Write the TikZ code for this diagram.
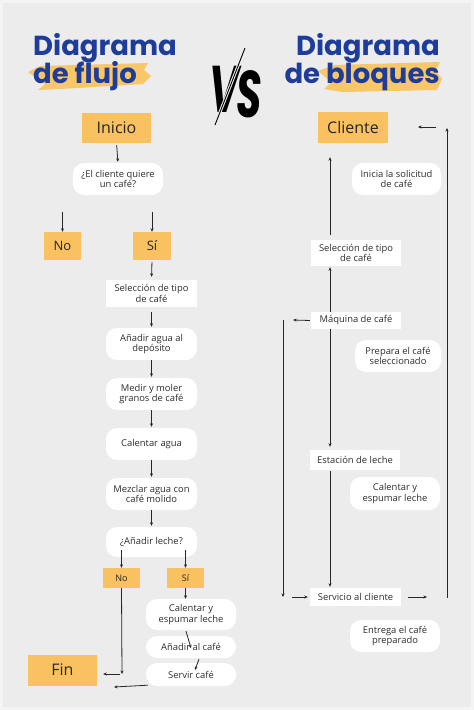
\documentclass[tikz,border=0pt]{standalone}
\usepackage{fontspec}
\setmainfont{Open Sans}
\newfontfamily\titlefont{Poppins}
\usetikzlibrary{arrows.meta}
\definecolor{bg}{HTML}{ECECEC}
\definecolor{bgout}{HTML}{F4F4F4}
\definecolor{orng}{HTML}{F9C160}
\definecolor{tblue}{HTML}{1E3C9A}
\definecolor{txt}{HTML}{2E2E2E}
\definecolor{brush}{HTML}{F8C767}
\begin{document}
\begin{tikzpicture}[x=1pt,y=-1pt,
  arr/.style={-{Stealth[length=3.5pt,width=3pt]}, line width=0.8pt, draw=black!85},
  obox/.style={fill=orng, inner sep=0pt, text=black!85},
  bigo/.style={obox, font=\fontsize{16}{16}\selectfont},
  mido/.style={obox, font=\fontsize{13}{13}\selectfont},
  smallo/.style={obox, font=\fontsize{9}{9}\selectfont},
  wbox/.style={fill=white, rounded corners=11pt, inner sep=0pt, align=center,
    font=\fontsize{9.4}{10.5}\selectfont, text=txt},
  rbox/.style={fill=white, inner sep=0pt, align=center,
    font=\fontsize{9.4}{10.5}\selectfont, text=txt},
  ttl/.style={font=\titlefont\bfseries\fontsize{27.5}{27.5}\selectfont, text=tblue, inner sep=0pt},
  vsfont/.style={font=\titlefont\bfseries\itshape\fontsize{66}{66}\selectfont, inner sep=0pt, text=black}
]
\useasboundingbox (0,0) rectangle (474,710);
\fill[bgout] (0,0) rectangle (474,710);
\fill[bg] (3,3) rectangle (471,707);

% brush strokes
\fill[brush] (28,72) -- (40,66) -- (148,63) -- (144,70) -- (151,76) -- (143,84) -- (60,89) -- (38,90) -- (45,84) -- cycle;
\fill[brush] (318,71) -- (334,65) -- (440,62) -- (436,71) -- (442,79) -- (437,90) -- (342,92) -- (324,89) -- (331,82) -- cycle;

% titles
\node[ttl, anchor=base west] (t1a) at (33,55) {Diagrama};
\node[ttl, anchor=base west] (t1b) at (33,83) {de flujo};
\node[ttl, anchor=base east] (t2a) at (440,55) {Diagrama};
\node[ttl, anchor=base east] (t2b) at (440,83) {de bloques};

% VS
\node[vsfont, anchor=base west] (vs) at (209,112) {\scalebox{0.62}[1]{V\kern-4pt\raisebox{-5pt}{S}}};
\draw[bg, line width=3pt] (245,48) -- (215,125);
\draw[black, line width=0.9pt] (245,48) -- (215,125);

% ---------- left: flowchart ----------
\node[bigo, minimum width=69pt, minimum height=30pt] (inicio) at (116.5,128) {Inicio};
\node[wbox, minimum width=90pt, minimum height=32pt] (q1) at (118,179) {¿El cliente quiere\\un café?};
\node[mido, minimum width=37pt, minimum height=28pt] (no1) at (62.5,246) {No};
\node[mido, minimum width=38pt, minimum height=28pt] (si1) at (152,246) {Sí};
\node[rbox, minimum width=91pt, minimum height=27pt] (sel) at (151.5,293.5) {Selección de tipo\\de café};
\node[wbox, minimum width=91pt, minimum height=32pt] (agua) at (151.5,344) {Añadir agua al\\depósito};
\node[wbox, minimum width=91pt, minimum height=32pt] (medir) at (151.5,394) {Medir y moler\\granos de café};
\node[wbox, minimum width=91pt, minimum height=32pt] (calentar) at (151.5,444) {Calentar agua};
\node[wbox, minimum width=91pt, minimum height=32pt] (mezclar) at (151.5,494) {Mezclar agua con\\café molido};
\node[wbox, minimum width=91pt, minimum height=30pt] (q2) at (151.5,542) {¿Añadir leche?};
\node[smallo, minimum width=37pt, minimum height=20pt] (no2) at (121.5,578) {No};
\node[smallo, minimum width=37pt, minimum height=20pt] (si2) at (185.5,578) {Sí};
\node[wbox, minimum width=90pt, minimum height=31pt] (calleche) at (191,614.5) {Calentar y\\espumar leche};
\node[wbox, minimum width=90pt, minimum height=22pt] (anadir) at (191,647) {Añadir al café};
\node[wbox, minimum width=90pt, minimum height=23pt] (servir) at (191,674.5) {Servir café};
\node[bigo, minimum width=69pt, minimum height=31pt] (fin) at (62.5,670) {Fin};

\coordinate (nocorner) at (122,674);
\coordinate (finin) at (114,687);

\draw[arr, shorten <=2pt, shorten >=1pt] (inicio.south) -- (q1.north);
\draw[arr] ([yshift=20pt]no1.north) -- (no1.north);
\draw[arr] ([yshift=20pt]si1.north) -- (si1.north);
\draw[arr, shorten <=2pt, shorten >=3pt] (si1.south) -- (sel.north);
\draw[arr, shorten <=5pt, shorten >=1pt] (sel.south) -- (agua.north);
\draw[arr, shorten >=1pt] (agua.south) -- (medir.north);
\draw[arr, shorten >=1pt] (medir.south) -- (calentar.north);
\draw[arr, shorten >=1pt] (calentar.south) -- (mezclar.north);
\draw[arr, shorten >=1pt] (mezclar.south) -- (q2.north);
\draw[arr] ([yshift=7pt]no2.north |- q2.south) -- (no2.north);
\draw[arr] ([yshift=7pt]si2.north |- q2.south) -- (si2.north);
\draw[arr] (no2.south) -- (nocorner);
\draw[arr] ([xshift=-2pt]nocorner) -- ([xshift=6pt]fin.east |- nocorner);
\draw[arr] (si2.south) -- (si2.south |- calleche.north);
\draw[arr] ([xshift=-5pt,yshift=-1pt]calleche.south) -- ([yshift=10pt]anadir.south);
\draw[arr] ([xshift=8pt,yshift=-1pt]anadir.south) -- ([xshift=4pt,yshift=-7pt]servir.north);
\draw[arr] ([xshift=2pt,yshift=1pt]servir.south west) -- (finin);

% ---------- right: block diagram ----------
\node[bigo, minimum width=70pt, minimum height=31pt] (cliente) at (353,127.5) {Cliente};
\node[wbox, minimum width=89pt, minimum height=32pt] (inicia) at (396.5,179) {Inicia la solicitud\\de café};
\node[rbox, minimum width=90pt, minimum height=26pt] (selR) at (356,253) {Selección de tipo\\de café};
\node[rbox, minimum width=90pt, minimum height=17pt] (maquina) at (356,320.5) {Máquina de café};
\node[wbox, minimum width=86pt, minimum height=32pt] (prepara) at (398,356) {Prepara el café\\seleccionado};
\node[rbox, minimum width=90pt, minimum height=20pt] (estacion) at (355,460) {Estación de leche};
\node[wbox, minimum width=90pt, minimum height=33pt] (calR) at (395,493.5) {Calentar y\\espumar leche};
\node[rbox, minimum width=91pt, minimum height=18pt] (servicio) at (355.5,597) {Servicio al cliente};
\node[wbox, minimum width=90pt, minimum height=32pt] (entrega) at (395,636) {Entrega el café\\preparado};

\coordinate (colR) at (330,0);
\coordinate (ltop) at (283,320);
\coordinate (lbot) at (283,597);
\coordinate (lin) at (293,320);
\coordinate (rtop) at (447,128);
\coordinate (rbot) at (447,598);
\coordinate (rin) at (427,597);
\coordinate (topin) at (418,127);
\coordinate (topout) at (436,127);

\draw[arr, shorten <=5pt, shorten >=14pt] (selR.north -| colR) -- (cliente.south -| colR);
\draw[arr, shorten >=1pt] (maquina.north -| colR) -- (selR.south -| colR);
\draw[arr, shorten >=3pt] (maquina.south -| colR) -- (estacion.north -| colR);
\draw[arr, shorten <=1pt, shorten >=1pt] (estacion.south -| colR) -- (servicio.north -| colR);
\draw[arr, shorten <=1pt] (maquina.west) -- (lin);
\draw[arr] (ltop) -- (lbot);
\draw[arr, shorten >=2pt] ([xshift=-18pt]servicio.west) -- (servicio.west);
\draw[arr, shorten <=7pt] (servicio.east) -- (rin);
\draw[arr] (rbot) -- (rtop);
\draw[arr] (topout) -- (topin);
\end{tikzpicture}
\end{document}
